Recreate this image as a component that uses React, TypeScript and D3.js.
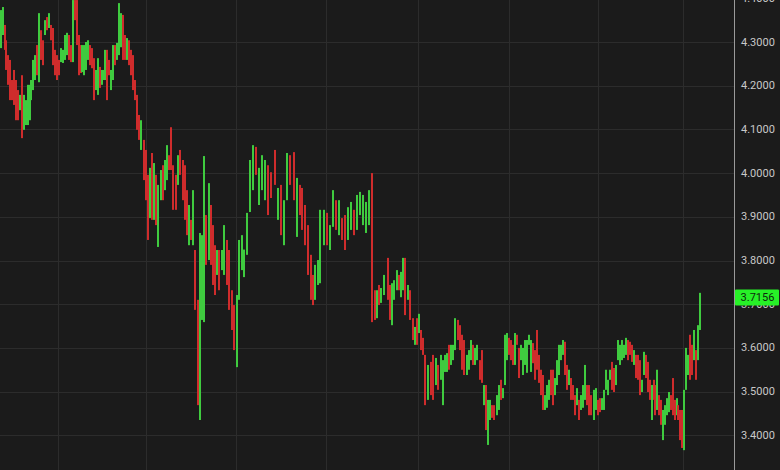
import React from "react";
import * as d3 from "d3";

// Session positions (time units along the x axis)
const times: number[] = [
  1,3,5,6,8,10,12,14,16,18,
  20,22,24,26,28,30,31,33,35,37,
  39,41,43,45,47,49,51,53,55,57,
  59,61,63,65,67,69,71,73,75,77,
  79,81,82,84,86,88,90,92,94,96,
  98,100,102,104,105,107,109,111,113,115,
  117,119,121,123,125,127,129,131,133,135,
  137,139,141,144,146,148,150,152,154,156,
  158,161,163,165,167,169,171,173,176,178,
  180,183,185,187,189,191,193,195,198,200,
  202,204,206,209,211,213,215,217,219,222,
  224,227,229,232,234,237,239,242,244,247,
  250,253,256,259,262,265,268,271,275,278,
  281,284,287,290,294,297,300,302,305,308,
  311,313,315,318,320,324,327,330,333,336,
  339,342,345,348,351,354,357,360,363,366,
  369,372,375,377,379,381,384,388,390,392,
  394,397,399,401,403,405,408,410,413,415,
  417,419,421,423,425,428,431,433,436,438,
  441,443,445,447,449,451,453,455,458,460,
  462,464,467,469,471,473,475,477,480,482,
  484,486,488,490,492,494,497,499,501,503,
  505,507,509,511,513,515,517,519,521,523,
  525,527,529,531,533,535,537,539,541,543,
  545,547,549,551,553,555,557,559,561,563,
  565,567,569,571,573,575,577,579,581,583,
  585,587,589,591,594,596,598,600,602,604,
  606,608,610,612,614,616,618,620,622,624,
  626,628,630,632,634,636,638,640,642,644,
  646,648,650,652,654,655,657,659,661,663,
  665,667,669,671,673,675,677,678,680,682,
  684,686,688,690,692,694,696,698,700,
];

const highs: number[] = [
  4.373,4.380,4.339,4.304,4.270,4.259,4.213,4.236,4.213,4.190,
  4.179,4.224,4.179,4.167,4.202,4.202,4.213,4.259,4.270,4.293,
  4.366,4.327,4.304,4.350,4.357,4.366,4.339,4.332,4.282,4.270,
  4.259,4.286,4.282,4.316,4.321,4.316,4.293,4.396,4.396,4.396,
  4.316,4.293,4.293,4.293,4.300,4.304,4.293,4.286,4.263,4.236,
  4.263,4.243,4.236,4.236,4.282,4.282,4.259,4.236,4.293,4.293,
  4.298,4.389,4.366,4.362,4.316,4.309,4.304,4.282,4.270,4.213,
  4.179,4.133,4.121,4.076,4.053,3.996,4.012,4.046,4.023,3.996,
  3.973,4.007,4.018,4.030,4.064,4.041,4.105,4.018,3.996,4.041,
  4.053,4.030,4.018,3.961,3.927,3.893,3.961,3.824,3.710,3.863,
  3.858,4.039,3.904,3.977,3.927,3.881,3.835,3.824,3.824,3.824,
  3.881,3.847,3.824,3.732,3.698,3.721,3.847,3.858,3.825,3.909,
  4.030,4.064,4.060,4.012,4.041,4.030,4.018,4.002,4.053,3.966,
  3.973,3.938,4.046,4.041,4.048,3.989,3.973,3.966,3.927,3.881,
  3.813,3.767,3.790,3.801,3.916,3.916,3.909,3.881,3.961,3.938,
  3.938,3.897,3.904,3.922,3.934,3.916,3.950,3.957,3.950,3.934,
  3.961,4.000,3.732,3.732,3.744,3.737,3.767,3.806,3.744,3.748,
  3.755,3.778,3.767,3.774,3.806,3.806,3.744,3.732,3.668,3.648,
  3.668,3.678,3.641,3.623,3.584,3.561,3.568,3.584,3.577,3.561,
  3.584,3.572,3.584,3.588,3.607,3.607,3.607,3.668,3.664,3.652,
  3.630,3.618,3.584,3.595,3.618,3.607,3.600,3.607,3.572,3.595,
  3.515,3.515,3.481,3.481,3.469,3.469,3.492,3.515,3.527,3.508,
  3.630,3.634,3.623,3.618,3.607,3.634,3.630,3.600,3.607,3.600,
  3.618,3.618,3.630,3.618,3.611,3.595,3.641,3.584,3.550,3.538,
  3.492,3.515,3.527,3.550,3.550,3.531,3.572,3.607,3.607,3.618,
  3.614,3.561,3.550,3.531,3.515,3.492,3.508,3.481,3.492,3.515,
  3.561,3.515,3.515,3.492,3.504,3.508,3.481,3.485,3.485,3.504,
  3.550,3.527,3.550,3.568,3.554,3.561,3.618,3.607,3.618,3.607,
  3.623,3.618,3.614,3.607,3.595,3.584,3.584,3.572,3.527,3.591,
  3.584,3.568,3.527,3.515,3.527,3.515,3.550,3.492,3.481,3.458,
  3.469,3.485,3.499,3.492,3.531,3.481,3.485,3.469,3.458,3.458,
  3.504,3.600,3.584,3.630,3.607,3.641,3.595,3.652,3.726,
];

const lows: number[] = [
  4.286,4.316,4.282,4.236,4.202,4.167,4.167,4.156,4.121,4.121,
  4.144,4.080,4.099,4.110,4.110,4.121,4.167,4.190,4.213,4.224,
  4.208,4.259,4.247,4.316,4.327,4.332,4.304,4.247,4.224,4.213,
  4.224,4.254,4.252,4.259,4.270,4.259,4.254,4.254,4.350,4.293,
  4.224,4.229,4.231,4.224,4.236,4.259,4.247,4.240,4.167,4.190,
  4.179,4.195,4.202,4.213,4.213,4.167,4.224,4.190,4.213,4.247,
  4.259,4.270,4.288,4.259,4.259,4.259,4.247,4.224,4.190,4.167,
  4.099,4.076,4.053,3.984,3.938,3.847,3.897,3.893,3.893,3.881,
  3.831,3.938,3.938,3.961,3.984,4.007,4.007,3.916,3.916,3.973,
  3.996,3.938,3.893,3.858,3.835,3.847,3.835,3.687,3.469,3.435,
  3.664,3.659,3.790,3.801,3.790,3.744,3.721,3.767,3.732,3.778,
  3.767,3.744,3.687,3.641,3.595,3.556,3.710,3.778,3.762,3.813,
  3.911,3.961,3.996,3.927,3.961,3.938,3.904,3.943,3.973,3.893,
  3.858,3.835,3.938,3.973,3.938,3.854,3.904,3.870,3.835,3.767,
  3.710,3.698,3.710,3.744,3.748,3.835,3.835,3.824,3.877,3.870,
  3.858,3.847,3.824,3.847,3.870,3.858,3.870,3.904,3.881,3.863,
  3.881,3.659,3.664,3.668,3.698,3.703,3.721,3.710,3.664,3.652,
  3.710,3.732,3.732,3.716,3.732,3.675,3.710,3.664,3.618,3.607,
  3.607,3.634,3.595,3.584,3.469,3.481,3.492,3.481,3.515,3.504,
  3.527,3.469,3.545,3.545,3.550,3.561,3.572,3.595,3.618,3.595,
  3.550,3.538,3.538,3.550,3.572,3.561,3.561,3.572,3.527,3.520,
  3.469,3.412,3.378,3.435,3.440,3.435,3.446,3.458,3.481,3.485,
  3.515,3.572,3.584,3.572,3.561,3.561,3.607,3.531,3.572,3.538,
  3.561,3.543,3.607,3.545,3.565,3.527,3.550,3.520,3.492,3.458,
  3.458,3.463,3.481,3.492,3.469,3.492,3.515,3.538,3.572,3.584,
  3.538,3.504,3.515,3.481,3.481,3.446,3.469,3.435,3.458,3.463,
  3.481,3.469,3.446,3.446,3.435,3.458,3.446,3.453,3.458,3.458,
  3.504,3.492,3.527,3.504,3.499,3.515,3.572,3.561,3.572,3.577,
  3.584,3.572,3.584,3.568,3.561,3.531,3.527,3.492,3.499,3.538,
  3.531,3.499,3.481,3.435,3.481,3.446,3.458,3.446,3.424,3.389,
  3.424,3.446,3.453,3.458,3.446,3.435,3.446,3.435,3.389,3.371,
  3.366,3.504,3.538,3.527,3.538,3.572,3.527,3.572,3.641,
];

// u = closed up (green), d = closed down (red)
const directions: string[] = (
  "uudddddddd uduuuuuuud uddududddd duuuuddudd dduuuudddu " +
  "uduuudduud uuuddudddd ddudddudud uuduuddddu ddddududdu " +
  "uududddudu udddduuuuu uuduuudddu duuddudddd dduuuuduud " +
  "udduuduuuu udduduuddu uuduududdu duddduddud uuuuduuudd " +
  "dduuuduudd uduudduudu uudddudduu uuuudddddd uuudduuuuu " +
  "dduddduduu uddduudduu uuudduuuuu uddduddduu dddudduddu " +
  "uuuddduddd uuudduduu"
).replace(/ /g, "").split("");

const priceTicks: number[] = [3.4, 3.5, 3.6, 3.7, 3.8, 3.9, 4.0, 4.1, 4.2, 4.3, 4.4];
const timeGrid: number[] = [58, 146, 236, 326, 418, 509, 598, 683];
const lastPrice = 3.7156;

const W = 780;
const H = 470;
const plotRight = 734;

export default function App() {
  const x = d3.scaleLinear().domain([0, 734]).range([0, plotRight]);
  const y = d3.scaleLinear().domain([3.4, 4.3]).range([435.3, 42]);
  const fmt = d3.format(".4f");
  const up = "#3fcb3f";
  const down = "#cf2c2c";

  return (
    <svg
      width={W}
      height={H}
      style={{ position: "fixed", left: 0, top: 0, background: "#1b1b1b" }}
    >
      <rect x={0} y={0} width={W} height={H} fill="#1b1b1b" />
      <g>
        {priceTicks.map((p) => (
          <line
            key={"h" + p}
            x1={0}
            x2={plotRight}
            y1={Math.round(y(p)) + 0.5}
            y2={Math.round(y(p)) + 0.5}
            stroke="#2c2c2c"
            strokeWidth={1}
          />
        ))}
        {timeGrid.map((t) => (
          <line
            key={"v" + t}
            x1={Math.round(x(t)) + 0.5}
            x2={Math.round(x(t)) + 0.5}
            y1={0}
            y2={H}
            stroke="#2c2c2c"
            strokeWidth={1}
          />
        ))}
      </g>
      <g>
        {times.map((t, i) => {
          const yh = y(highs[i]);
          const yl = y(lows[i]);
          return (
            <rect
              key={i}
              x={x(t) - 1}
              y={yh}
              width={2}
              height={Math.max(1, yl - yh)}
              fill={directions[i] === "u" ? up : down}
            />
          );
        })}
      </g>
      <line
        x1={plotRight + 0.5}
        x2={plotRight + 0.5}
        y1={0}
        y2={H}
        stroke="#9a9a9a"
        strokeWidth={1}
      />
      <g fontFamily="Roboto, 'Open Sans', sans-serif" fontSize={11} fill="#c8c8c8">
        {priceTicks.map((p) => (
          <text key={"t" + p} x={741} y={y(p)} dominantBaseline="central">
            {fmt(p)}
          </text>
        ))}
      </g>
      <g>
        <rect
          x={plotRight + 1}
          y={y(lastPrice) - 8}
          width={W - plotRight - 2}
          height={16}
          rx={1}
          fill="#27f127"
        />
        <text
          x={(plotRight + W) / 2 + 0.5}
          y={y(lastPrice)}
          textAnchor="middle"
          dominantBaseline="central"
          fontFamily="Roboto, 'Open Sans', sans-serif"
          fontSize={11}
          fill="#0e2a0e"
        >
          {fmt(lastPrice)}
        </text>
      </g>
    </svg>
  );
}
